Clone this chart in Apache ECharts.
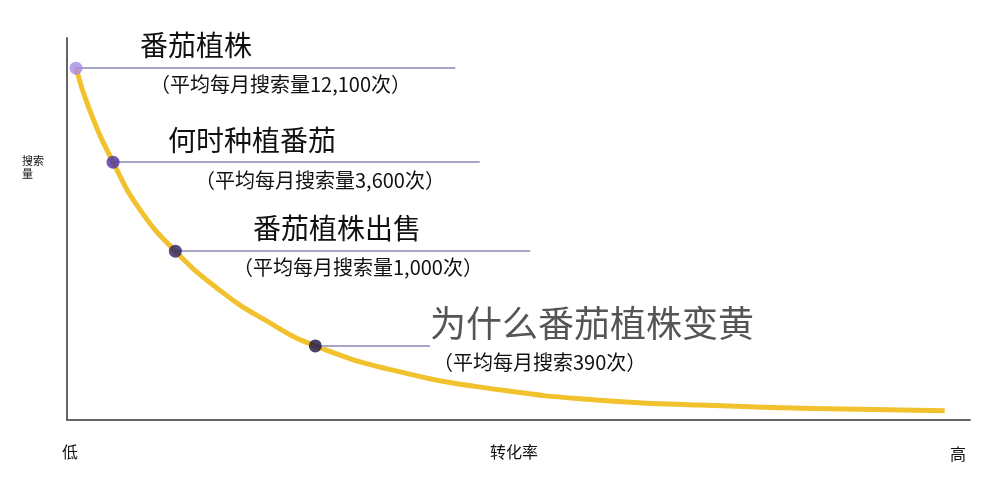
<!DOCTYPE html>
<html>
<head>
<meta charset="utf-8">
<script src="https://cdn.jsdelivr.net/npm/echarts@6/dist/echarts.min.js"></script>
<style>html,body{margin:0;padding:0;background:#fff}#chart-main{width:1004px;height:501px}</style>
</head>
<body>
<div id="chart-main"></div>
<script>
// curve (x = conversion, y = search volume, 0-100)
var curveX = [1.0, 2.5, 5.1, 8.1, 12.0, 16.9, 21.9, 27.5, 36.9, 47.9, 59.0, 70.1, 81.2, 97.2];
var curveY = [92.1, 81.2, 67.5, 55.0, 44.2, 34.0, 26.2, 19.4, 12.6, 7.9, 5.2, 3.9, 3.1, 2.4];
var keywordX = [1.0, 5.1, 12.0, 27.5];
var keywordY = [92.1, 67.5, 44.2, 19.4];
var lineEndX = [43.0, 45.7, 51.3, 40.2];
var dotColors = ['#a98be6', '#4a2fa0', '#2a2160', '#1a1440'];

var curveData = curveX.map(function (x, i) { return [x, curveY[i]]; });
var dots = keywordX.map(function (x, i) {
    return {value: [x, keywordY[i]], itemStyle: {color: dotColors[i]}};
});
var segs = keywordX.map(function (x, i) {
    return [{coord: [x, keywordY[i]]}, {coord: [lineEndX[i], keywordY[i]]}];
});

function txt(x, y, s, size, color) {
    return {type: 'text', left: x, top: y, style: {text: s, fontSize: size, fill: color || '#111',
        fontFamily: 'Noto Sans CJK SC'}};
}

var option = {
    animation: false,
    grid: {left: 67, right: 34, top: 38, bottom: 81},
    xAxis: {type: 'value', min: 0, max: 100, axisLine: {show: true, lineStyle: {color: '#666', width: 2}},
        axisTick: {show: false}, axisLabel: {show: false}, splitLine: {show: false}},
    yAxis: {type: 'value', min: 0, max: 100, axisLine: {show: true, lineStyle: {color: '#666', width: 2}},
        axisTick: {show: false}, axisLabel: {show: false}, splitLine: {show: false}},
    series: [
        {type: 'line', data: curveData, smooth: 0.5, symbol: 'none',
            lineStyle: {color: '#f2c12e', width: 5},
            markLine: {symbol: 'none', silent: true, label: {show: false},
                lineStyle: {color: '#a9a4c9', width: 2, type: 'solid'}, data: segs}},
        {type: 'scatter', data: dots, symbolSize: 13, z: 5}
    ],
    graphic: [
        txt(140, 31, '番茄植株', 28),
        txt(150, 74, '（平均每月搜索量12,100次）', 20),
        txt(168, 126, '何时种植番茄', 28),
        txt(195, 170, '（平均每月搜索量3,600次）', 20),
        txt(253, 214, '番茄植株出售', 28),
        txt(233, 257, '（平均每月搜索量1,000次）', 20),
        txt(430, 305, '为什么番茄植株变黄', 36, '#555'),
        txt(433, 352, '（平均每月搜索390次）', 20),
        txt(62, 444, '低', 16),
        txt(490, 444, '转化率', 16),
        txt(950, 446, '高', 16),
        {type: 'text', left: 22, top: 154, style: {text: '搜索\n量', fontSize: 11, lineHeight: 13,
            fill: '#111', fontFamily: 'Noto Sans CJK SC'}}
    ]
};
var myChart = echarts.init(document.getElementById('chart-main'));
myChart.setOption(option);
</script>
</body>
</html>
